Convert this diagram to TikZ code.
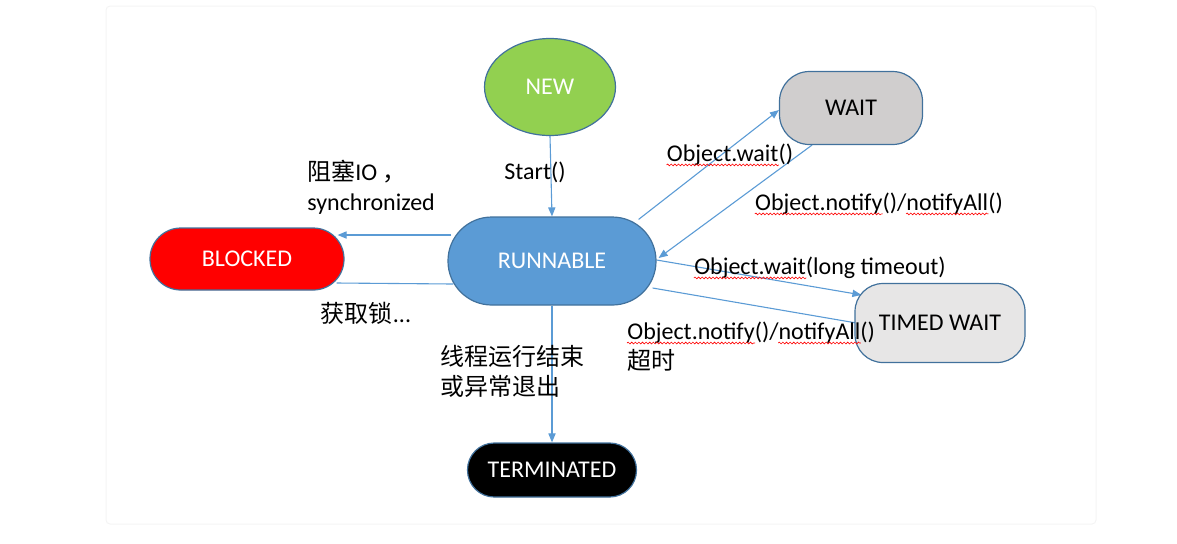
\documentclass[tikz,border=0pt]{standalone}
\usepackage{fontspec}
\setmainfont{Carlito}
\newfontfamily\cjk{Noto Sans CJK SC}
\usepackage{tikz}
\usetikzlibrary{calc,shapes.geometric,arrows.meta,backgrounds,decorations.pathmorphing}
\usepackage{xcolor}
\definecolor{stateline}{HTML}{41719C}
\definecolor{runblue}{HTML}{5B9BD5}
\definecolor{newgreen}{HTML}{92D050}
\definecolor{waitgray}{HTML}{D0CECE}
\definecolor{timedgray}{HTML}{E7E6E6}
\definecolor{arrowblue}{HTML}{5B9BD5}
\definecolor{framegray}{HTML}{F4F4F4}
\newcommand\statefont{\fontsize{12}{15}\selectfont}
\newcommand\spellwave[1]{\tikz[baseline=(w.base),x=1cm,y=1cm]{\node[inner sep=0pt,anchor=base west,text=black] (w) at (0,0) {#1};
  \draw[overlay,red,line width=0.3pt,decorate,decoration={snake,amplitude=0.45pt,segment length=1.8pt}] ([yshift=-1.6pt]w.base west) -- ([yshift=-1.6pt]w.base east);}}

\begin{document}
\begin{tikzpicture}[x=0.5pt,y=-0.5pt]
  \tikzset{statebox/.style={draw=stateline,line width=0.6pt,inner sep=0pt,font=\statefont}}
  \tikzset{transition/.style={draw=arrowblue,line width=0.55pt,-{Triangle[length=4.5pt,width=3.6pt]}}}
  \tikzset{backline/.style={draw=arrowblue,line width=0.55pt}}
  \tikzset{translabel/.style={font=\statefont,inner sep=0pt,text=black}}
  \useasboundingbox (0,0) rectangle (1177,543);
  \draw[framegray,line width=0.5pt,rounded corners=2pt] (106,6) rectangle (1096,524);
  \node[statebox,ellipse,fill=newgreen,text=white,minimum width=65.5pt,minimum height=48.5pt] (new) at (550,87) {NEW};
  \node[statebox,rounded corners=21.9pt,fill=runblue,text=white,minimum width=104pt,minimum height=44pt] (run) at (552,261) {RUNNABLE};
  \node[statebox,rounded corners=15.4pt,fill=red,text=white,minimum width=97pt,minimum height=31pt] (blocked) at (247,259) {BLOCKED};
  \node[statebox,rounded corners=15pt,fill=waitgray,minimum width=71.5pt,minimum height=36.5pt] (wait) at (851,108) {WAIT};
  \node[statebox,rounded corners=14pt,fill=timedgray,minimum width=85pt,minimum height=39.5pt] (timed) at (940,323) {TIMED WAIT};
  \node[statebox,rounded corners=13.4pt,fill=black,text=white,minimum width=84.5pt,minimum height=27pt] (term) at (552,470) {TERMINATED};
  \begin{scope}[on background layer]
    \draw[transition] (new.south) -- (run.north);
    \draw[transition] ($(run.west)+(4,-26)$) -- ($(blocked.east)+(-7,-24)$);
    \draw[backline] ($(blocked.east)+(-8,24)$) -- ($(run.west)+(6,23)$);
    \draw[transition] ($(run.north east)+(-18,3)$) -- ($(wait.west)+(0,2)$);
    \draw[transition] ($(wait.south)+(-39,0)$) -- ($(run.east)+(2,-3)$);
    \draw[transition] ($(run.east)+(0,-1)$) -- ($(timed.north west)+(7,12)$);
    \draw[backline] ($(timed.west)+(2,0)$) -- ($(run.east)+(-4,27)$);
    \draw[transition] (run.south) -- (term.north);
  \end{scope}
  \node[translabel] (startlbl) at (535,172) {Start()};
  \node[translabel,anchor=west,align=left] (blocklbl) at (307,187) {{\cjk 阻塞}IO {\cjk ，}\\synchronized};
  \node[translabel] (locklbl) at (366,313) {{\cjk 获取锁}...};
  \node[translabel] (waitlbl) at (730,155) {\spellwave{Object.wait}()};
  \node[translabel] (notifylbl) at (879,204) {\spellwave{Object.notify}()/\spellwave{notifyAll}()};
  \node[translabel] (timedlbl) at (820,268) {\spellwave{Object.wait}(long timeout)};
  \node[translabel,anchor=west,align=left] (backlbl) at (627,347) {\spellwave{Object.notify}()/\spellwave{notifyAll}()\\{\cjk 超时}};
  \node[translabel,anchor=west,align=left] (endlbl) at (440,371) {{\cjk 线程运行结束}\\{\cjk 或异常退出}};
\end{tikzpicture}
\end{document}
